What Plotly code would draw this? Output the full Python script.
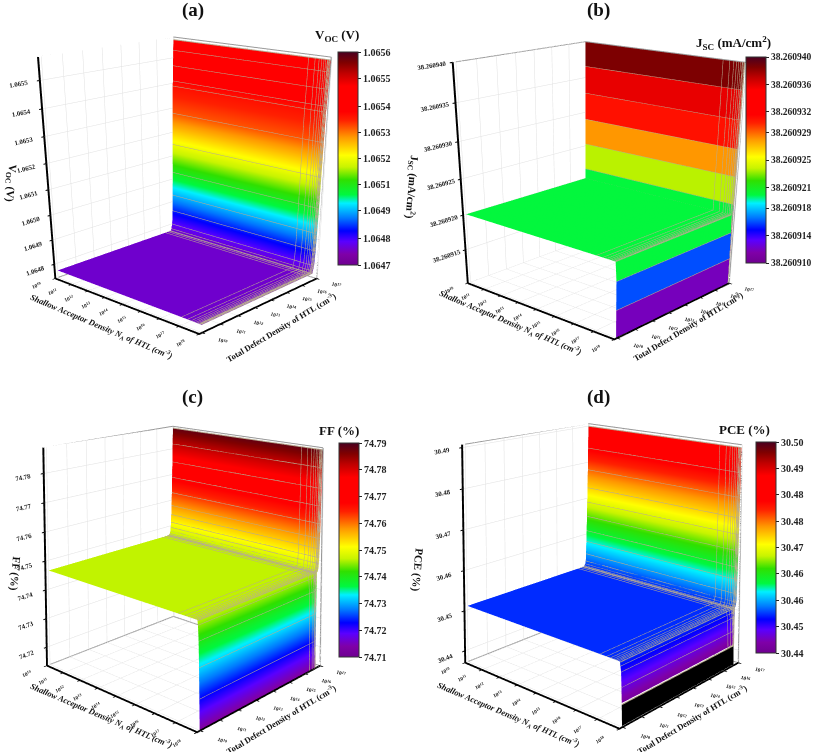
import math
import plotly.graph_objects as go

COLORSCALE = [[0.0, "#6e0090"], [0.05, "#7f00a8"], [0.11, "#5a00ff"], [0.16, "#0000ff"], [0.22, "#0078ff"],
              [0.29, "#00f0ff"], [0.33, "#00f840"], [0.40, "#30e000"], [0.46, "#c8f400"], [0.515, "#ffff00"],
              [0.60, "#ff9800"], [0.68, "#ff2000"], [0.72, "#ff0000"], [0.84, "#ff0000"], [0.90, "#c00000"],
              [0.95, "#800000"], [1.0, "#4a0020"]]

NA_TICKS = [10, 11, 12, 13, 14, 15, 16, 17, 18]
NT_TICKS = [10, 11, 12, 13, 14, 15, 16, 17]
NA_LABELS = ["10<sup>%d</sup>" % v for v in NA_TICKS]
NT_LABELS = ["10<sup>%d</sup>" % v for v in NT_TICKS]

NA = [10.0, 11, 12, 13, 14, 15, 16, 17, 17.3, 17.48, 17.6, 17.7, 17.78, 17.85, 17.88, 17.9, 17.93, 17.95, 17.965, 17.98]
NT = [10.0, 11, 12, 13, 14, 15, 16, 16.3, 16.48, 16.6, 16.66, 16.7, 16.72, 16.78, 16.82, 16.84, 16.86, 16.88, 16.9, 16.92,
      16.94, 16.96, 16.98, 17.0]

# panel (a)
A_FLAT = 1.06477
A_Z_NT = [A_FLAT] * 12 + [1.06478, 1.0648, 1.06486, 1.06493, 1.06503, 1.06515, 1.06528, 1.06539, 1.06541, 1.06547, 1.06553, 1.06557]
A_C_NT = [A_FLAT] * 12 + [1.06478, 1.0648, 1.06486, 1.06493, 1.06503, 1.06515, 1.06528, 1.06533, 1.06535, 1.06538, 1.06541, 1.06546]
A_Z_NA = [A_FLAT] * 20
A_TICKS = [1.0648, 1.0649, 1.0650, 1.0651, 1.0652, 1.0653, 1.0654, 1.0655]
A_CB_VALS = [1.0647, 1.06481, 1.06493, 1.06504, 1.06515, 1.06526, 1.06537, 1.06549, 1.0656]
A_CB_TEXT = ["1.0647", "1.0648", "1.0649", "1.0651", "1.0652", "1.0653", "1.0654", "1.0655", "1.0656"]

# panel (b): flat bands
B_NA = [10.0, 11, 12, 13, 14, 15, 16, 17, 17.3, 17.48, 17.6, 17.7, 17.78, 17.85, 17.88, 17.93, 17.931, 17.94, 17.941, 17.95]
B_NT = [10.0, 11, 12, 13, 14, 15, 16, 16.98, 16.982, 16.984, 16.986, 16.988, 16.99, 16.992, 16.994, 16.996, 16.998, 16.999, 17.0]
B_Z_NT = [38.26092] * 8 + [38.2609215, 38.2609215, 38.2609253, 38.2609253, 38.260929, 38.260929, 38.2609328, 38.2609328,
                           38.2609366, 38.2609366, 38.26094]
B_C_NT = [38.26092] * 8 + [38.26092, 38.2609236, 38.2609236, 38.260928, 38.260928, 38.260931, 38.260931, 38.2609358,
                           38.2609358, 38.2609385, 38.2609385]
B_Z_NA = [38.26092] * 15 + [38.2609175, 38.2609175, 38.2609137, 38.2609137, 38.26091]
B_C_NA = [38.26092] * 16 + [38.260916, 38.260916, 38.260912, 38.260912]
B_TICKS = [38.260915, 38.26092, 38.260925, 38.26093, 38.260935, 38.26094]
B_TICKTEXT = ["38.260915", "38.260920", "38.260925", "38.260930", "38.260935", "38.260940"]
B_CB_VALS = [38.26091, 38.260914, 38.260918, 38.260921, 38.260925, 38.260929, 38.260932, 38.260936, 38.26094]
B_CB_TEXT = ["38.260910", "38.260914", "38.260918", "38.260921", "38.260925", "38.260929", "38.260932", "38.260936", "38.260940"]

# panel (c)
C_FLAT = 74.7465
C_Z_NT = [C_FLAT] * 12 + [74.7467, 74.747, 74.748, 74.7495, 74.7515, 74.7545, 74.758, 74.763, 74.769, 74.775, 74.782, 74.788]
C_Z_NA = [C_FLAT] * 14 + [74.7463, 74.745, 74.7403, 74.7324, 74.723, 74.7135]
C_TICKS = [74.72, 74.73, 74.74, 74.75, 74.76, 74.77, 74.78]
C_CB_VALS = [74.71, 74.72, 74.73, 74.74, 74.75, 74.76, 74.77, 74.78, 74.79]
C_CB_TEXT = ["74.71", "74.72", "74.73", "74.74", "74.75", "74.76", "74.77", "74.78", "74.79"]

# panel (d)
D_FLAT = 30.451
D_Z_NT = [D_FLAT] * 12 + [30.4512, 30.4516, 30.4525, 30.4545, 30.458, 30.461, 30.465, 30.469, 30.473, 30.478, 30.484, 30.49]
D_Z_NA = [D_FLAT] * 14 + [30.4508, 30.45, 30.4488, 30.4455, 30.4418, 30.4372]
D_TICKS = [30.44, 30.45, 30.46, 30.47, 30.48, 30.49]
D_CB_VALS = [30.44, 30.4475, 30.455, 30.4625, 30.47, 30.4775, 30.485, 30.4925, 30.50]
D_CB_TEXT = ["30.44", "30.45", "30.46", "30.46", "30.47", "30.48", "30.48", "30.49", "30.50"]
D_BLACK_BELOW = 30.4418

LINE = "#b8ab90"
SERIF = "Liberation Serif"
FOCAL = 908.0
YAW_RATIO = 1.104
DEPTH = 4.43
ASPECT = dict(x=1, y=0.91, z=1.09)
CB_FIX = 0.974


def grid(zn, za, flat):
    return [[zj if zj != flat else zi for zi in za] for zj in zn]


def unit(v, lo, hi):
    return None if v is None else (v - lo) / (hi - lo)


def matrix(m, lo, hi):
    return [[unit(v, lo, hi) for v in row] for row in m]


def camera(dx, dy, pitch_deg):
    e = math.radians(pitch_deg)
    r = math.hypot(1, YAW_RATIO)
    right = [YAW_RATIO / r, 1 / r, 0.0]
    look = [-math.cos(e) / r, YAW_RATIO * math.cos(e) / r, -math.sin(e)]
    up = [right[1] * look[2] - right[2] * look[1], right[2] * look[0] - right[0] * look[2],
          right[0] * look[1] - right[1] * look[0]]
    X = dx * DEPTH / FOCAL
    Y = -dy * DEPTH / FOCAL
    E = [-X * right[k] - Y * up[k] - DEPTH * look[k] for k in range(3)]
    C = [E[k] + look[k] for k in range(3)]
    return dict(eye=dict(x=E[0], y=E[1], z=E[2]), center=dict(x=C[0], y=C[1], z=C[2]),
                up=dict(x=0, y=0, z=1), projection=dict(type="perspective"))


LIGHT = dict(ambient=1, diffuse=0, specular=0, roughness=1, fresnel=0)


def panel(fig, name, na, nt, z, color, cmin, cmax, zrange, zticks, zticktext,
          cbv, cbt, cbx, cby, cblen, cbsize, domx, target, pitch, rows):
    zz = matrix(z, zrange[0], zrange[1])
    cc = matrix(color, cmin, cmax)
    fig.add_trace(go.Surface(x=na, y=nt, z=zz, surfacecolor=cc, cmin=0, cmax=1, colorscale=COLORSCALE,
                             scene=name, hoverinfo="skip", lighting=LIGHT,
                             colorbar=dict(x=cbx / 813 / CB_FIX, xanchor="left", y=1 - cby / 752, yanchor="top",
                                           lenmode="pixels", len=cblen, thicknessmode="pixels", thickness=20,
                                           tickvals=[unit(v, cmin, cmax) for v in cbv], ticktext=cbt,
                                           ticks="outside", ticklen=3, tickcolor="#222",
                                           outlinecolor="#333", outlinewidth=1, xpad=0, ypad=0,
                                           tickfont=dict(family=SERIF, size=cbsize, color="#222", weight="bold"))))
    lx, ly, lz = [], [], []
    for j in rows:
        lx += list(na) + [None]
        ly += [nt[j]] * len(na) + [None]
        lz += list(zz[j]) + [None]
    for i, v in enumerate(na):
        if 17 <= v <= 17.965:
            lx += [v] * len(nt) + [None]
            ly += list(nt) + [None]
            lz += [row[i] for row in zz] + [None]
    fig.add_trace(go.Scatter3d(x=lx, y=ly, z=lz, mode="lines", line=dict(color=LINE, width=2), scene=name,
                               showlegend=False, hoverinfo="skip", connectgaps=False))
    x0, x1 = NA_TICKS[0], NA_TICKS[-1]
    y0, y1 = NT_TICKS[0], NT_TICKS[-1]
    fig.add_trace(go.Scatter3d(
        x=[x0, x0, x1, None, x1, x1, None, x0, x1, None, x0, x0],
        y=[y0, y1, y1, None, y1, y1, None, y1, y1, None, y0, y1],
        z=[1, 1, 1, None, 1, 0, None, 0, 0, None, 0, 0],
        mode="lines", line=dict(color="#999999", width=2), scene=name, showlegend=False, hoverinfo="skip"))
    tf = dict(family=SERIF, size=8, color="#222", weight="bold")
    common = dict(showbackground=False, gridcolor="#e0e0e0", gridwidth=1, showline=True, linecolor="black", linewidth=4,
                  ticks="outside", tickcolor="black", ticklen=3, tickwidth=2, zeroline=False, showspikes=False,
                  title=dict(text=""))
    scene = dict(
        domain=dict(x=domx, y=[0, 1]),
        xaxis=dict(common, range=[x0, x1], tickvals=NA_TICKS, ticktext=NA_LABELS, tickfont=tf),
        yaxis=dict(common, range=[y0 - 0.15, y1 + 0.05], tickvals=NT_TICKS, ticktext=NT_LABELS, tickfont=tf),
        zaxis=dict(common, range=[0, 1], tickvals=[unit(v, zrange[0], zrange[1]) for v in zticks], ticktext=zticktext,
                   tickfont=dict(tf, size=9)),
        aspectmode="manual", aspectratio=ASPECT,
        camera=camera(target[0] - (domx[0] + domx[1]) / 2 * 813, target[1] - 376, pitch),
        bgcolor="rgba(0,0,0,0)")
    fig.update_layout({name: scene})


fig = go.Figure()
DX1 = [0.0, 0.5]
DX2 = [0.5, 1.0]
PITCH_TOP = 27.9
PITCH_BOTTOM = 5.7
ALL_ROWS = list(range(7, 24))

za = grid(A_Z_NT, A_Z_NA, A_FLAT)
ca = grid(A_C_NT, A_Z_NA, A_FLAT)
panel(fig, "scene", NA, NT, za, ca, 1.0647, 1.0656, [1.06474, 1.06558], A_TICKS, ["%.4f" % v for v in A_TICKS],
      A_CB_VALS, A_CB_TEXT, 340, 52, 213, 10, DX1, (192, 174), PITCH_TOP, ALL_ROWS)

zb = grid(B_Z_NT, B_Z_NA, B_Z_NT[0])
cb = grid(B_C_NT, B_C_NA, B_C_NT[0])
panel(fig, "scene2", B_NA, B_NT, zb, cb, 38.26091, 38.26094, [38.26091, 38.26094], B_TICKS, B_TICKTEXT,
      B_CB_VALS, B_CB_TEXT, 750, 57, 206, 9.5, DX2, (618, 179), PITCH_TOP, [7, 9, 11, 13, 15, 17])

zc = grid(C_Z_NT, C_Z_NA, C_FLAT)
panel(fig, "scene3", NA, NT, zc, zc, 74.71, 74.79, [74.7135, 74.7887], C_TICKS, ["%.2f" % v for v in C_TICKS],
      C_CB_VALS, C_CB_TEXT, 341, 443, 214, 10, DX1, (190, 558), PITCH_BOTTOM, ALL_ROWS)

zd = grid(D_Z_NT, D_Z_NA, D_FLAT)
zd_main = [[v if v >= D_BLACK_BELOW else None for v in row] for row in zd]
D_RANGE = [30.437, 30.4907]
panel(fig, "scene4", NA, NT, zd_main, zd_main, 30.44, 30.50, D_RANGE, D_TICKS, ["%.2f" % v for v in D_TICKS],
      D_CB_VALS, D_CB_TEXT, 760, 442, 211, 10, DX2, (621, 555), PITCH_BOTTOM, ALL_ROWS)
black_rows = matrix([[v if v <= D_BLACK_BELOW else None for v in row[-2:]] for row in zd], D_RANGE[0], D_RANGE[1])
fig.add_trace(go.Surface(x=NA[-2:], y=NT, z=black_rows, colorscale=[[0, "black"], [1, "black"]], showscale=False,
                         scene="scene4", hoverinfo="skip", lighting=LIGHT))


def note(x, y, text, size, angle=0, italic=False):
    fig.add_annotation(x=x / 813, y=1 - y / 752, xref="paper", yref="paper", text=text, showarrow=False,
                       xanchor="center", yanchor="middle", textangle=angle,
                       font=dict(family=SERIF, size=size, color="#111", weight="bold",
                                 style="italic" if italic else "normal"))


note(199, 10, "(a)", 19)
note(617, 10, "(b)", 19)
note(199, 397, "(c)", 19)
note(617, 397, "(d)", 19)
note(348, 36, "V<sub>OC</sub> (V)", 13)
note(757, 43, "J<sub>SC</sub> (mA/cm<sup>2</sup>)", 13)
note(350, 431, "FF (%)", 13)
note(768, 429, "PCE (%)", 13)

NA_TITLE = "Shallow Acceptor Density N<sub>A</sub> of HTL (cm<sup>-3</sup>)"
NT_TITLE = "Total Defect Density of HTL (cm<sup>-3</sup>)"
for (nx, ny, tx, ty) in [(105, 326, 290, 327), (527, 322, 710, 326), (105, 715, 290, 719), (525, 714, 714, 719)]:
    note(nx, ny, NA_TITLE, 8.5, 23, True)
    note(tx, ty, NT_TITLE, 8.5, -31)
note(11, 183, "V<sub>OC</sub> (V)", 11, 95)
note(425, 187, "J<sub>SC</sub> (mA/cm<sup>2</sup>)", 11, 95)
note(16, 573, "FF (%)", 11, 95)
note(431, 570, "PCE (%)", 11, 95)

fig.update_layout(width=813, height=752, autosize=False, margin=dict(l=0, r=0, t=0, b=0), paper_bgcolor="white",
                  showlegend=False)
fig.write_html("out.html", config=dict(displayModeBar=False), post_script="document.body.style.margin='0';")
